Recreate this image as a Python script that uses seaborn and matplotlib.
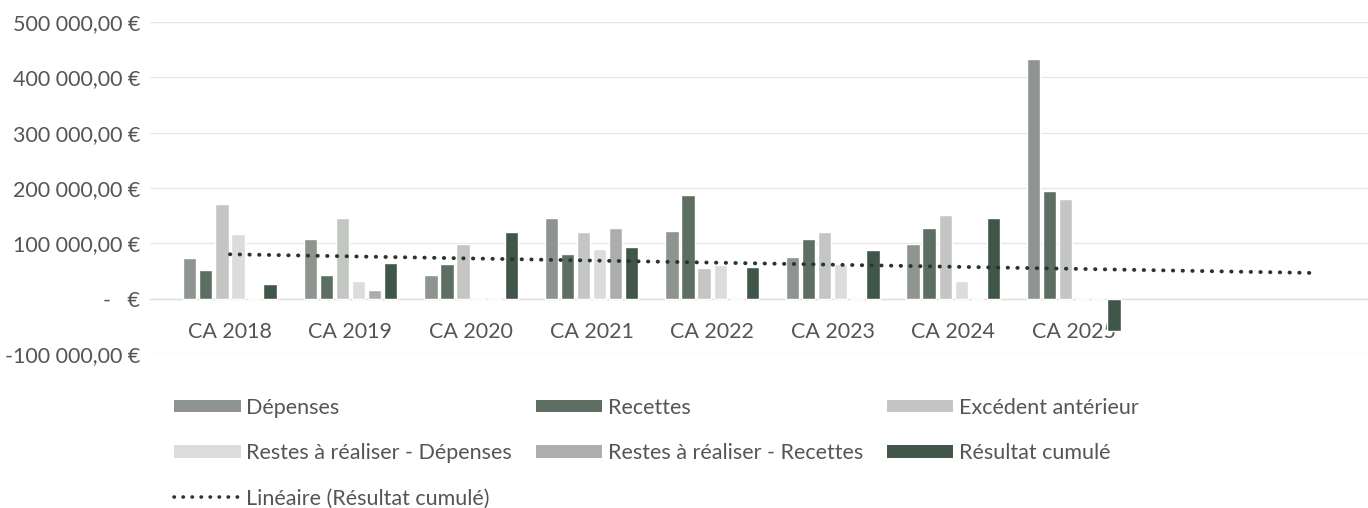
import numpy as np
import pandas as pd
import matplotlib
matplotlib.use("Agg")
import matplotlib.pyplot as plt
from matplotlib.ticker import FuncFormatter
from matplotlib.patches import Patch
from matplotlib.lines import Line2D
import seaborn as sns

categories = ["CA 2018", "CA 2019", "CA 2020", "CA 2021", "CA 2022", "CA 2023", "CA 2024", "CA 2025"]
depenses = [74000, 107000, 42000, 146000, 122000, 76000, 98000, 434000]
recettes = [51000, 43000, 63000, 81000, 187500, 107000, 127000, 195000]
excedent = [171000, 146000, 99000, 120500, 56000, 120500, 152000, 180000]
rar_depenses = [116000, 32000, 0, 90000, 61000, 62000, 32000, 0]
rar_recettes = [0, 16000, 0, 127000, 0, 0, 0, 0]
resultat = [26000, 64500, 120500, 93000, 57000, 87500, 146000, -58000]
series_names = ["Dépenses", "Recettes", "Excédent antérieur",
                "Restes à réaliser - Dépenses", "Restes à réaliser - Recettes", "Résultat cumulé"]
trend_label = "Linéaire (Résultat cumulé)"
y_ticks = [-100000, 0, 100000, 200000, 300000, 400000, 500000]

colors = ["#8e948f", "#5c6f62", "#c4c6c4", "#dcdcdc", "#acaeac", "#3f5648"]
text_color = "#555555"
fs = 15.5

sns.set_theme(style="white")
plt.rcParams["font.family"] = ["Lato", "DejaVu Sans"]

rows = []
for name, vals in zip(series_names, [depenses, recettes, excedent, rar_depenses, rar_recettes, resultat]):
    for c, v in zip(categories, vals):
        rows.append({"cat": c, "serie": name, "val": v})
df = pd.DataFrame(rows)

fig = plt.figure(figsize=(13.68, 5.08), dpi=100)
ax = fig.add_axes([150 / 1368, 1 - 354 / 508, (1368 - 150) / 1368, (354 - 22) / 508])

sns.barplot(data=df, x="cat", y="val", hue="serie", order=categories, hue_order=series_names,
            palette=colors, width=0.8, gap=0.17, saturation=1, legend=False, ax=ax, zorder=3)

# linear trendline over Résultat cumulé, extended forward two periods
xs = np.arange(len(categories))
coef = np.polyfit(xs, resultat, 1)
xt = np.array([0, len(categories) + 1])
ax.plot(xt, np.polyval(coef, xt), color="#2a352e", lw=2.8, linestyle=(0, (0.1, 2.4)),
        dash_capstyle="round", zorder=4)

ax.set_xlim(-0.663, 9.44)
ax.set_ylim(-100000, 500000)
ax.set_yticks(y_ticks)

def fmt(v, pos):
    if v == 0:
        return "-   €"
    s = f"{abs(v):,.2f}".replace(",", " ").replace(".", ",")
    return ("-" if v < 0 else "") + s + " €"

ax.yaxis.set_major_formatter(FuncFormatter(fmt))
ax.grid(axis="y", color="#e6e6e6", lw=0.9, zorder=0)
ax.grid(axis="x", visible=False)
for sp in ax.spines.values():
    sp.set_visible(False)
ax.spines["bottom"].set_position(("data", 0))
ax.axhline(0, color="#dcdcdc", lw=0.9, zorder=1)
ax.axhline(-100000, color="#e6e6e6", lw=0.9, zorder=0)
ax.tick_params(axis="y", length=0, pad=7, labelsize=fs, labelcolor=text_color)
ax.tick_params(axis="x", length=0, pad=17, labelsize=fs, labelcolor=text_color)
ax.set_xlabel("")
ax.set_ylabel("")
for lab in ax.get_xticklabels():
    lab.set_zorder(2)

handles = {n: Patch(facecolor=c, edgecolor="none") for n, c in zip(series_names, colors)}
trend_h = Line2D([0], [0], color="#2a352e", lw=2.6, linestyle=(0, (0.1, 2.4)), dash_capstyle="round")
order = [("Dépenses", handles["Dépenses"]),
         ("Restes à réaliser - Dépenses", handles["Restes à réaliser - Dépenses"]),
         (trend_label, trend_h),
         ("Recettes", handles["Recettes"]),
         ("Restes à réaliser - Recettes", handles["Restes à réaliser - Recettes"]),
         ("Excédent antérieur", handles["Excédent antérieur"]),
         ("Résultat cumulé", handles["Résultat cumulé"])]
leg = fig.legend([h for _, h in order], [l for l, _ in order], ncol=3,
                 loc="upper left", bbox_to_anchor=(174 / 1368, 1 - 398 / 508),
                 frameon=False, fontsize=fs, handlelength=3.1, handleheight=0.5,
                 handletextpad=0.25, columnspacing=1.1, labelspacing=1.17,
                 borderaxespad=0, borderpad=0)
for t in leg.get_texts():
    t.set_color(text_color)

fig.savefig("out.png", dpi=100)
